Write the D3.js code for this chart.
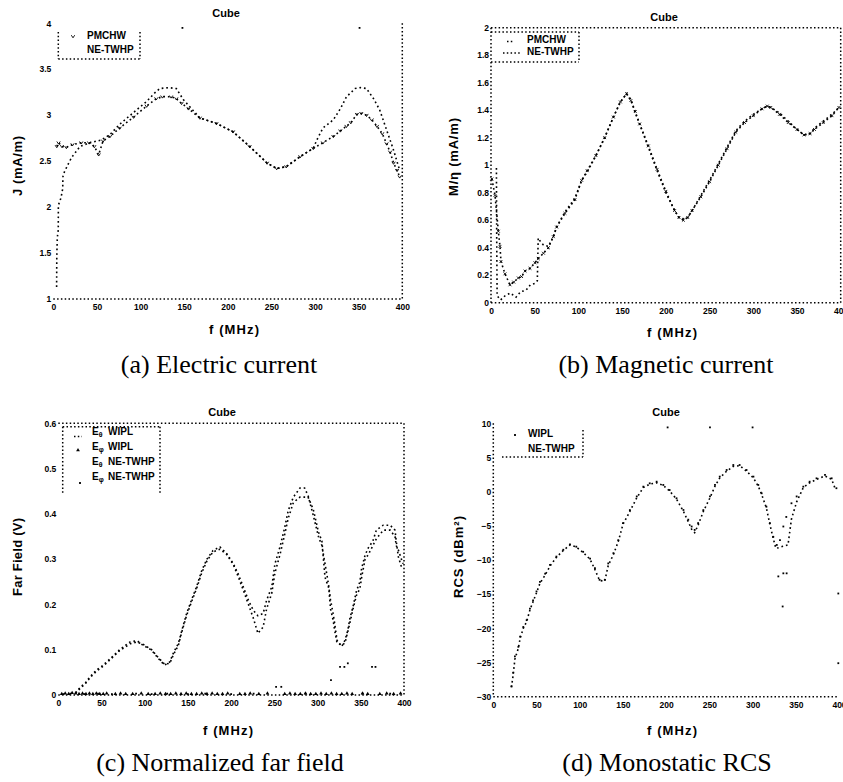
<!DOCTYPE html>
<html>
<head>
<meta charset="utf-8">
<script src="https://cdn.jsdelivr.net/npm/d3@7"></script>
<style>
  body { margin: 0; background: #fff; }
  svg { display: block; }
  .tick text { font-family: "Liberation Sans", Arial, sans-serif; font-size: 8.5px; font-weight: bold; fill: #000; }
  .lab { font-family: "Liberation Sans", Arial, sans-serif; font-weight: bold; fill: #000; }
  .cap { font-family: "Liberation Serif", "DejaVu Serif", serif; font-size: 26px; fill: #000; }
</style>
</head>
<body>
<svg id="fig" width="843" height="782"></svg>
<script>
// frequency ticks shared by all four panels (MHz)
var xTicks = [0, 50, 100, 150, 200, 250, 300, 350, 400];

// (a) electric current, [f MHz, J mA/m]
var aYTicks = [1, 1.5, 2, 2.5, 3, 3.5, 4];
var aNames = ['PMCHW', 'NE-TWHP'];
var aPmchw = [[4, 2.66], [6, 2.70], [10, 2.66], [15, 2.65], [22, 2.68], [32, 2.70], [41, 2.70], [47, 2.66],
  [52, 2.57], [57, 2.72], [65, 2.77], [76, 2.86], [92, 2.98], [107, 3.10], [118, 3.18], [125, 3.20],
  [135, 3.20], [141, 3.18], [147, 3.13], [155, 3.07], [168, 2.97], [187, 2.91], [206, 2.82], [225, 2.66],
  [245, 2.48], [256, 2.42], [267, 2.44], [283, 2.55], [298, 2.64], [309, 2.70], [321, 2.77], [329, 2.83],
  [336, 2.88], [341, 2.92], [348, 3.01], [353, 3.02], [359, 3.00], [365, 2.95], [371, 2.88], [377, 2.80],
  [382, 2.69], [386, 2.60], [390, 2.48], [394, 2.40], [397, 2.33]];
var aNec = [[3.8, 1.13], [3.9, 1.30], [4.0, 1.47], [4.6, 1.67], [5.7, 1.75], [5.8, 2.02], [8.8, 2.10],
  [10.8, 2.20], [11, 2.33], [12.6, 2.38], [17.2, 2.47], [21, 2.54], [30.6, 2.66], [42, 2.70], [55, 2.73],
  [65, 2.79], [76, 2.90], [92, 3.03], [107, 3.15], [116, 3.24], [122, 3.29], [132, 3.30], [141, 3.29],
  [149, 3.17], [168, 2.97], [187, 2.91], [206, 2.82], [225, 2.66], [245, 2.48], [256, 2.42], [267, 2.44],
  [283, 2.55], [298, 2.64], [302, 2.73], [309, 2.86], [321, 2.95], [329, 3.07], [336, 3.20], [346, 3.29],
  [352, 3.30], [359, 3.29], [367, 3.18], [374, 3.06], [382, 2.84], [390, 2.62], [397, 2.40]];
var aStray = [[148, 3.95], [351, 3.95]];

// (b) magnetic current, [f MHz, M/eta mA/m]
var bYTicks = [0, 0.2, 0.4, 0.6, 0.8, 1, 1.2, 1.4, 1.6, 1.8, 2];
var bNames = ['PMCHW', 'NE-TWHP'];
var bPmchw = [[1, 0.90], [4.6, 0.78], [8.4, 0.52], [10.3, 0.41], [11.4, 0.30], [16, 0.21], [21.7, 0.13],
  [26, 0.15], [31.3, 0.18], [35, 0.19], [38.9, 0.23], [44.6, 0.25], [50.3, 0.29], [54, 0.32], [60, 0.36],
  [65.6, 0.40], [71.3, 0.48], [75.1, 0.55], [84.6, 0.65], [96, 0.75], [103.7, 0.89], [110, 0.96],
  [120, 1.07], [130, 1.20], [140, 1.35], [148, 1.46], [155, 1.52], [160, 1.47], [165, 1.39], [170, 1.30],
  [180, 1.14], [190, 0.97], [200, 0.81], [210, 0.67], [215, 0.62], [220, 0.60], [225, 0.62], [230, 0.67],
  [240, 0.77], [250, 0.88], [260, 1.00], [270, 1.12], [280, 1.24], [290, 1.31], [300, 1.36], [310, 1.41],
  [316, 1.43], [320, 1.42], [330, 1.37], [340, 1.31], [350, 1.26], [358, 1.22], [365, 1.23], [370, 1.26],
  [380, 1.31], [390, 1.36], [398, 1.42]];
var bNec = [[6.2, 0.98], [6.5, 0.50], [7, 0.05], [11, 0.02], [16, 0.05], [22, 0.07], [28.6, 0.04],
  [34, 0.08], [40, 0.09], [45, 0.13], [50, 0.14], [53, 0.16], [54, 0.47], [56, 0.45], [60, 0.42],
  [65.6, 0.41], [71.3, 0.48], [75.1, 0.55], [84.6, 0.66], [96, 0.76], [103.7, 0.89], [110, 0.95],
  [120, 1.07], [130, 1.20], [140, 1.35], [148, 1.46], [155, 1.52], [160, 1.48], [165, 1.38], [170, 1.30],
  [180, 1.13], [190, 0.96], [200, 0.80], [210, 0.67], [215, 0.62], [220, 0.61], [225, 0.62], [230, 0.67],
  [240, 0.78], [250, 0.89], [260, 1.01], [270, 1.13], [280, 1.25], [290, 1.32], [300, 1.37], [310, 1.41],
  [316, 1.43], [320, 1.42], [330, 1.38], [340, 1.32], [350, 1.26], [358, 1.22], [365, 1.23], [370, 1.27],
  [380, 1.32], [390, 1.37], [398, 1.42]];

// (c) normalized far field, [f MHz, |E| V]
var cYTicks = [0, 0.1, 0.2, 0.3, 0.4, 0.5, 0.6];
var cNames = ['WIPL', 'WIPL', 'NE-TWHP', 'NE-TWHP'];
var cComps = ['\u03b8', '\u03c6', '\u03b8', '\u03c6'];
var cThetaWipl = [[20, 0.005], [23, 0.012], [27, 0.020], [31, 0.026], [36.6, 0.040], [44, 0.055], [52, 0.066],
  [60, 0.080], [71, 0.100], [83, 0.117], [91, 0.120], [98, 0.110], [108, 0.099], [116, 0.080], [123, 0.066],
  [129, 0.073], [133, 0.092], [139, 0.114], [143, 0.143], [148.5, 0.180], [154, 0.209], [160, 0.239],
  [166, 0.275], [172, 0.300], [179, 0.319], [187, 0.327], [195, 0.312], [202.5, 0.290], [208, 0.268],
  [214, 0.239], [220, 0.209], [225.6, 0.187], [231, 0.175], [237, 0.180], [241, 0.209], [247, 0.239],
  [250.7, 0.290], [256.5, 0.327], [262, 0.370], [266, 0.407], [272, 0.437], [279.6, 0.457], [285, 0.457],
  [289, 0.440], [295, 0.397], [301, 0.350], [305, 0.330], [308.6, 0.290], [313, 0.240], [315, 0.210],
  [318, 0.180], [320, 0.155], [322.5, 0.121], [328, 0.107], [331.7, 0.121], [335, 0.143], [337.5, 0.170],
  [341, 0.195], [345, 0.230], [349, 0.250], [351, 0.280], [355, 0.309], [358.7, 0.325], [364, 0.340],
  [368, 0.364], [376, 0.375], [384, 0.375], [389.6, 0.364], [391, 0.340], [393.5, 0.305], [397, 0.283],
  [399, 0.280]];
var cThetaNec = [[20, 0.004], [23, 0.010], [27, 0.018], [31, 0.024], [36.6, 0.038], [44, 0.052], [52, 0.064],
  [60, 0.078], [71, 0.098], [83, 0.113], [91, 0.117], [98, 0.112], [108, 0.100], [116, 0.082], [123, 0.068],
  [129, 0.070], [133, 0.088], [139, 0.110], [143, 0.140], [148.5, 0.176], [154, 0.205], [160, 0.235],
  [166, 0.270], [172, 0.296], [179, 0.316], [187, 0.322], [195, 0.310], [202.5, 0.288], [208, 0.262],
  [214, 0.232], [220, 0.200], [225.6, 0.170], [231, 0.136], [237, 0.150], [241, 0.190], [247, 0.225],
  [250.7, 0.270], [256.5, 0.310], [262, 0.355], [266, 0.390], [272, 0.425], [279.6, 0.437], [285, 0.437],
  [289, 0.437], [295, 0.410], [301, 0.360], [305, 0.340], [308.6, 0.260], [313, 0.236], [315, 0.190],
  [318, 0.165], [320, 0.140], [322.5, 0.115], [328, 0.110], [331.7, 0.115], [335, 0.140], [337.5, 0.160],
  [341, 0.190], [345, 0.220], [349, 0.235], [351, 0.260], [355, 0.300], [358.7, 0.310], [364, 0.330],
  [368, 0.345], [376, 0.364], [384, 0.364], [389.6, 0.350], [391, 0.330], [393.5, 0.320], [397, 0.300],
  [399, 0.290]];
var cPhiWipl = [[4, 0.003], [8, 0.004], [12, 0.003], [16, 0.005], [20, 0.004], [24, 0.003], [28, 0.004],
  [32, 0.003], [36, 0.004], [40, 0.003], [44, 0.004], [48, 0.003], [52, 0.003], [56, 0.004], [66, 0.003],
  [72, 0.004], [78, 0.003], [86, 0.003], [96, 0.004], [104, 0.003], [112, 0.003], [118, 0.004], [124, 0.003],
  [130, 0.003], [136, 0.004], [142, 0.003], [148, 0.004], [154, 0.003], [160, 0.003], [166, 0.004],
  [172, 0.003], [178, 0.004], [184, 0.003], [190, 0.003], [196, 0.004], [210, 0.003], [216, 0.003],
  [222, 0.004], [232, 0.003], [242, 0.004], [262, 0.003], [268, 0.004], [274, 0.003], [280, 0.003],
  [286, 0.004], [292, 0.003], [298, 0.003], [304, 0.004], [310, 0.003], [316, 0.004], [322, 0.003],
  [328, 0.003], [334, 0.004], [340, 0.003], [352, 0.004], [358, 0.003], [372, 0.003], [380, 0.004],
  [388, 0.003], [396, 0.004]];
var cPhiNec = [[6, 0.002], [14, 0.003], [30, 0.002], [46, 0.003], [62, 0.002], [90, 0.003], [108, 0.002],
  [126, 0.003], [150, 0.002], [170, 0.003], [200, 0.002], [226, 0.003], [252, 0.018], [258, 0.018],
  [286, 0.003], [315.5, 0.033], [326, 0.062], [331, 0.062], [335, 0.070], [352, 0.003], [363, 0.062],
  [367, 0.062], [384, 0.003]];

// (d) monostatic RCS, [f MHz, dBm^2]
var dYTicks = [-30, -25, -20, -15, -10, -5, 0, 5, 10];
var dNames = ['WIPL', 'NE-TWHP'];
var dWipl = [[21, -28.5], [23, -26.5], [25, -24.1], [29, -22.7], [31, -21.2], [34.7, -19.8], [38.6, -18.8],
  [42.4, -17.1], [46, -15.9], [50, -14.6], [54, -13.2], [60, -12.0], [65.6, -10.7], [73, -9.5], [81, -8.5],
  [88.7, -7.7], [96, -8.05], [104, -8.8], [112, -9.8], [117.6, -11.2], [123, -12.9], [129, -12.9],
  [133, -10.5], [139, -9.0], [144.6, -7.1], [150, -4.6], [158, -2.7], [166, -0.7], [173.6, 0.73],
  [181, 1.22], [189, 1.46], [196.7, 0.98], [204, 0.24], [212, -0.97], [220, -2.68], [225.6, -4.1],
  [229.5, -5.1], [233, -5.6], [237, -4.6], [243, -2.7], [250.7, -0.7], [256.5, 0.98], [262, 2.2],
  [270, 3.17], [277.7, 3.9], [285, 3.9], [293, 3.17], [301, 2.2], [306.6, 0.98], [310.5, -0.24],
  [316, -2.2], [320, -4.6], [324, -6.6], [328, -7.8], [331.7, -7.1], [335.6, -5.1], [339, -3.7],
  [345, -1.7], [351, -0.7], [358.7, 0.73], [366, 1.46], [374, 1.95], [383.8, 2.44], [391.5, 1.95],
  [397, 0.5]];
var dNec = [[21, -28.6], [23, -26.8], [25, -24.5], [29, -22.9], [31, -21.5], [34.7, -20.0], [38.6, -19.0],
  [42.4, -17.3], [46, -16.1], [50, -14.8], [54, -13.4], [60, -12.2], [65.6, -10.9], [73, -9.6], [81, -8.6],
  [88.7, -7.8], [96, -8.1], [104, -8.9], [112, -9.9], [117.6, -11.4], [123, -13.0], [129, -13.1],
  [133, -10.8], [139, -9.2], [144.6, -7.3], [150, -4.8], [158, -2.9], [166, -0.9], [173.6, 0.6],
  [181, 1.1], [189, 1.3], [196.7, 0.9], [204, 0.1], [212, -1.1], [220, -2.9], [225.6, -4.4],
  [229.5, -5.5], [233, -6.0], [237, -4.9], [243, -2.9], [250.7, -0.9], [256.5, 0.8], [262, 2.0],
  [270, 3.0], [277.7, 3.7], [285, 3.8], [293, 3.0], [301, 2.0], [306.6, 0.8], [310.5, -0.4],
  [316, -2.4], [320, -4.8], [324, -6.9], [327, -8.3], [330, -8.2], [335, -8.0], [341, -7.8],
  [345, -4.0], [351, -1.5], [358.7, 0.6], [366, 1.3], [374, 1.8], [383.8, 2.3], [391.5, 1.8], [396, 0.3]];
var dStray = [[201.7, 9.4], [250.7, 9.4], [300, 9.4], [329.8, -12.4], [334.8, -16.8], [335.6, -11.95],
  [339.4, -11.95], [399.2, -14.9], [399.2, -25.1]];

var svg = d3.select('#fig');

var markers = {
  v:   { d: 'M-1.7,-1.3L0,1.3L1.7,-1.3', fill: 'none', stroke: '#000' },
  x:   { d: 'M-1.4,-1.4L1.4,1.4M-1.4,1.4L1.4,-1.4', fill: 'none', stroke: '#000' },
  tri: { d: 'M0,-1.9L1.9,1.3L-1.9,1.3Z', fill: '#000', stroke: 'none' },
  dot: { d: 'M-0.9,-0.9h1.8v1.8h-1.8Z', fill: '#000', stroke: 'none' }
};

function dotLine(g, a, b) {
  g.append('line')
    .attr('x1', a[0]).attr('y1', a[1])
    .attr('x2', b[0]).attr('y2', b[1])
    .attr('stroke', '#000')
    .attr('stroke-width', 1.5)
    .attr('stroke-dasharray', '1.5,2.3');
}

function drawMarks(g, pts, kind, px, py) {
  var m = markers[kind];
  g.selectAll(null).data(pts).enter().append('path')
    .attr('transform', function(d) { return 'translate(' + px(d) + ',' + py(d) + ')'; })
    .attr('d', m.d)
    .attr('fill', m.fill)
    .attr('stroke', m.stroke)
    .attr('stroke-width', 0.9);
}

function drawPanel(p) {
  var g = svg.append('g');
  var x = d3.scaleLinear().domain([0, 400]).range([p.x0, p.x1]);
  var y = d3.scaleLinear().domain(p.yDomain).range([p.y1, p.y0]);

  var ax = g.append('g')
    .attr('transform', 'translate(0,' + p.y1 + ')')
    .call(d3.axisBottom(x).tickValues(xTicks).tickSize(0).tickPadding(5).tickFormat(d3.format('d')));
  ax.select('.domain').remove();
  var ay = g.append('g')
    .attr('transform', 'translate(' + p.x0 + ',0)')
    .call(d3.axisLeft(y).tickValues(p.yTicks).tickSize(0).tickPadding(2).tickFormat(d3.format('~g')));
  ay.select('.domain').remove();

  var sides = {
    top: [[p.x0, p.y0], [p.x1, p.y0]],
    bottom: [[p.x0, p.y1], [p.x1, p.y1]],
    left: [[p.x0, p.y0], [p.x0, p.y1]],
    right: [[p.x1, p.y0], [p.x1, p.y1]]
  };
  p.frame.forEach(function(s) { dotLine(g, sides[s][0], sides[s][1]); });

  var px = function(d) { return x(d[0]); };
  var py = function(d) { return y(d[1]); };
  var line = d3.line().x(px).y(py);

  p.series.forEach(function(s) {
    if (s.line) {
      g.append('path').datum(s.data)
        .attr('d', line)
        .attr('fill', 'none')
        .attr('stroke', '#000')
        .attr('stroke-width', 1.6)
        .attr('stroke-dasharray', '1.7,2.9');
    }
    if (s.marker) drawMarks(g, s.data, s.marker, px, py);
  });
  if (p.stray) drawMarks(g, p.stray, 'dot', px, py);

  // legend
  var lg = p.legend;
  lg.sides.forEach(function(s) { dotLine(g, [s[0], s[1]], [s[2], s[3]]); });
  lg.rows.forEach(function(r) {
    if (r.marker) drawMarks(g, [[r.mx, r.my]], r.marker, function(d) { return d[0]; }, function(d) { return d[1]; });
    if (r.line) dotLine(g, [r.line[0], r.my], [r.line[1], r.my]);
    if (r.comp) {
      var t = g.append('text').attr('class', 'lab').attr('x', lg.compX).attr('y', r.y).style('font-size', '10px');
      t.append('tspan').text('E');
      t.append('tspan').attr('dy', 2).style('font-size', '7px').text(r.comp);
    }
    g.append('text').attr('class', 'lab')
      .attr('x', lg.textX).attr('y', r.y)
      .style('font-size', '10px')
      .text(r.text);
  });

  // title and axis labels
  g.append('text').attr('class', 'lab')
    .attr('x', p.title[0]).attr('y', p.title[1])
    .attr('text-anchor', 'middle').style('font-size', '11px')
    .text('Cube');
  g.append('text').attr('class', 'lab')
    .attr('x', p.xlab[0]).attr('y', p.xlab[1])
    .attr('text-anchor', 'middle').style('font-size', '13px')
    .attr('textLength', p.xlab[2]).attr('lengthAdjust', 'spacing')
    .text('f (MHz)');
  g.append('text').attr('class', 'lab')
    .attr('transform', 'translate(' + p.ylab[0] + ',' + p.ylab[1] + ') rotate(-90)')
    .attr('text-anchor', 'middle').style('font-size', '13px')
    .attr('textLength', p.ylab[2]).attr('lengthAdjust', 'spacing')
    .text(p.ylab[3]);

  svg.append('text').attr('class', 'cap')
    .attr('x', p.cap[0]).attr('y', p.cap[1])
    .attr('text-anchor', 'middle')
    .text(p.cap[2]);
}

drawPanel({
  x0: 53.3, x1: 402.3, y0: 23.3, y1: 299,
  yDomain: [1, 4], yTicks: aYTicks,
  frame: ['bottom', 'right'],
  series: [
    { data: aPmchw, line: true, marker: 'v' },
    { data: aNec, line: true }
  ],
  stray: aStray,
  legend: {
    textX: 87,
    sides: [[58.3, 32, 58.3, 59], [140, 32, 140, 59], [58.3, 59, 140, 59]],
    rows: [
      { y: 39, text: aNames[0], marker: 'v', mx: 73, my: 36.5 },
      { y: 53, text: aNames[1] }
    ]
  },
  title: [226, 17],
  xlab: [234, 334, 50],
  ylab: [22, 166, 60, 'J (mA/m)'],
  cap: [219, 373, '(a) Electric current']
});

drawPanel({
  x0: 491, x1: 840.7, y0: 27.7, y1: 302.7,
  yDomain: [0, 2], yTicks: bYTicks,
  frame: ['top', 'bottom', 'left', 'right'],
  series: [
    { data: bPmchw, line: true, marker: 'x' },
    { data: bNec, line: true }
  ],
  legend: {
    textX: 527,
    sides: [[491, 32, 579, 32], [579, 32, 579, 62], [491, 62, 579, 62]],
    rows: [
      { y: 43, text: bNames[0], line: [507, 514], my: 41.5 },
      { y: 55, text: bNames[1], line: [503, 521], my: 53 }
    ]
  },
  title: [664, 21],
  xlab: [672, 337, 50],
  ylab: [458, 157, 78, 'M/\u03b7 (mA/m)'],
  cap: [666, 373, '(b) Magnetic current']
});

drawPanel({
  x0: 58.3, x1: 404, y0: 423.3, y1: 695,
  yDomain: [0, 0.6], yTicks: cYTicks,
  frame: ['top', 'bottom', 'right'],
  series: [
    { data: cThetaWipl, line: true },
    { data: cPhiWipl, marker: 'tri' },
    { data: cThetaNec, line: true },
    { data: cPhiNec, marker: 'dot' }
  ],
  legend: {
    textX: 108, compX: 92,
    sides: [[62.7, 426.7, 160, 426.7], [62.7, 426.7, 62.7, 493], [160, 426.7, 160, 493]],
    rows: [
      { y: 435, text: cNames[0], comp: cComps[0], line: [74, 82], my: 436.5 },
      { y: 450, text: cNames[1], comp: cComps[1], marker: 'tri', mx: 78, my: 450 },
      { y: 465, text: cNames[2], comp: cComps[2] },
      { y: 480, text: cNames[3], comp: cComps[3], marker: 'dot', mx: 80, my: 483 }
    ]
  },
  title: [222, 416],
  xlab: [228, 735, 50],
  ylab: [22, 557, 78, 'Far Field (V)'],
  cap: [220, 771, '(c) Normalized far field']
});

drawPanel({
  x0: 493.3, x1: 839, y0: 423.3, y1: 696.7,
  yDomain: [-30, 10], yTicks: dYTicks,
  frame: ['bottom', 'left'],
  series: [
    { data: dWipl, marker: 'dot' },
    { data: dNec, line: true }
  ],
  stray: dStray,
  legend: {
    textX: 528,
    sides: [[583, 430, 583, 457], [502, 457, 583, 457]],
    rows: [
      { y: 437, text: dNames[0], marker: 'dot', mx: 515, my: 435 },
      { y: 452, text: dNames[1] }
    ]
  },
  title: [666, 416],
  xlab: [672, 735, 50],
  ylab: [463, 557, 82, 'RCS (dBm\u00b2)'],
  cap: [667, 771, '(d) Monostatic RCS']
});
</script>
</body>
</html>
